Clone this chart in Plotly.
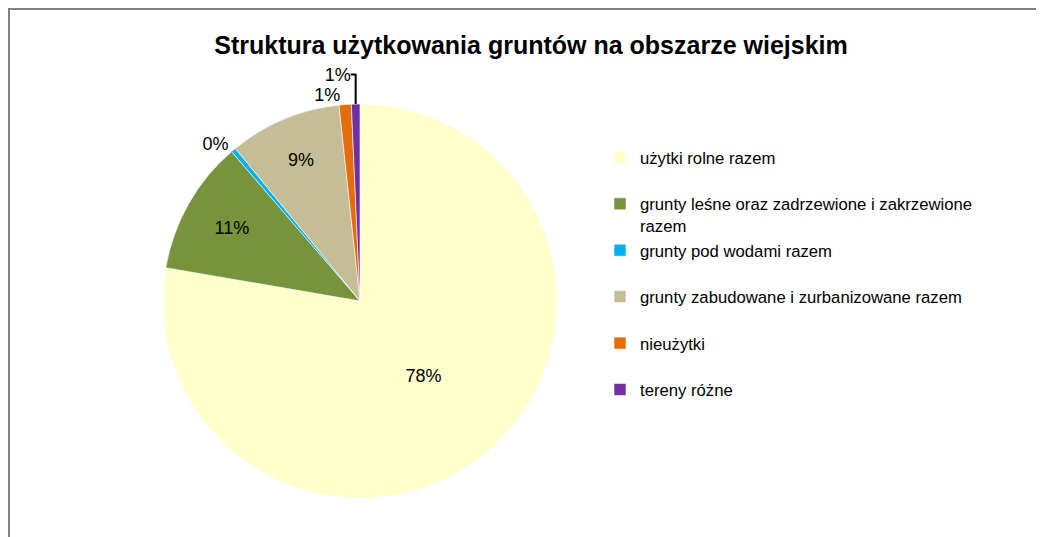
import plotly.graph_objects as go

categories = [
    "użytki rolne razem",
    "grunty leśne oraz zadrzewione i zakrzewione<br>razem",
    "grunty pod wodami razem",
    "grunty zabudowane i zurbanizowane razem",
    "nieużytki",
    "tereny różne",
]
values = [77.7, 11.0, 0.4, 9.2, 1.0, 0.7]
colors = ["#FFFFCC", "#77933C", "#00B0F0", "#C4BD97", "#E46C0A", "#7030A0"]
text_positions = ["inside", "inside", "outside", "inside", "outside", "outside"]

W, H = 1044, 537
FONT = "Liberation Sans, Arial, sans-serif"
# legend labels: pad single-line entries with an empty second line for spacing
legend_labels = [c if "<br>" in c else c + "<br> " for c in categories]

# pie centre (figure px) and radius
cx, cy, r = 352, 293, 197

fig = go.Figure(
    go.Pie(
        labels=legend_labels,
        values=values,
        sort=False,
        direction="clockwise",
        rotation=0,
        marker=dict(colors=colors, line=dict(color="white", width=0.6)),
        textinfo="percent",
        texttemplate="%{percent:.0%}",
        textposition=text_positions,
        insidetextorientation="horizontal",
        textfont=dict(family=FONT, size=18, color="#000000"),
        outsidetextfont=dict(family=FONT, size=18, color="#000000"),
        domain=dict(x=[(cx - r) / W, (cx + r) / W], y=[1 - (cy + r) / H, 1 - (cy - r) / H]),
        hoverinfo="label+percent",
    )
)

fig.update_layout(
    width=W,
    height=H,
    margin=dict(l=0, r=0, t=0, b=0),
    paper_bgcolor="white",
    plot_bgcolor="white",
    title=dict(
        text="<b>Struktura użytkowania gruntów na obszarze wiejskim</b>",
        x=523 / W,
        xanchor="center",
        y=1 - 37 / H,
        yanchor="middle",
        font=dict(family=FONT, size=25, color="#000000"),
    ),
    legend=dict(
        x=592 / W,
        xanchor="left",
        y=1 - 132 / H,
        yanchor="top",
        valign="top",
        font=dict(family=FONT, size=16.7, color="#000000"),
        bgcolor="rgba(0,0,0,0)",
        itemclick=False,
    ),
    showlegend=True,
    shapes=[
        dict(
            type="rect",
            xref="paper",
            yref="paper",
            x0=1 / W,
            x1=1.05,
            y0=-0.05,
            y1=1 - 1 / H,
            line=dict(color="#808080", width=2),
            fillcolor="rgba(0,0,0,0)",
            layer="above",
        )
    ],
)

fig.write_html("out.html")
